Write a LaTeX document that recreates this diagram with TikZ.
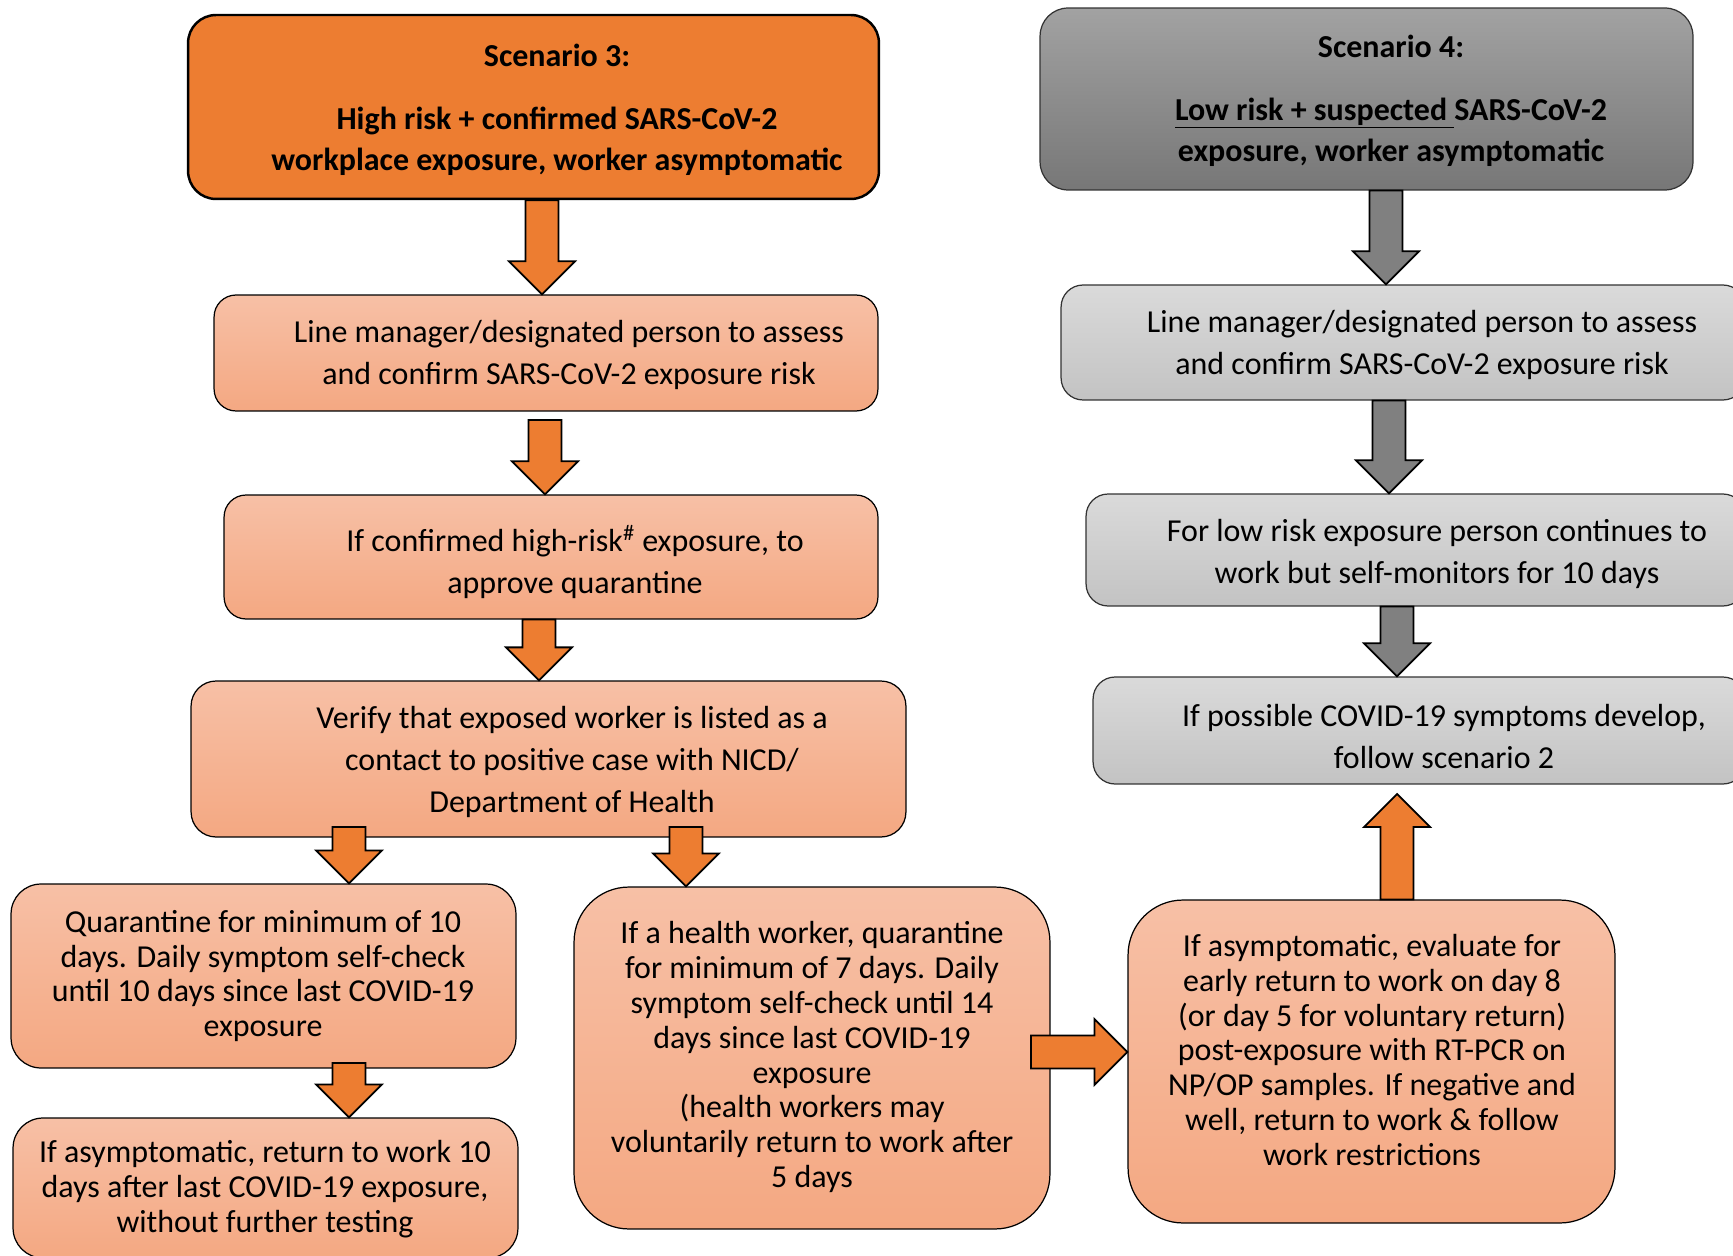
\documentclass[tikz,border=0pt]{standalone}
\usepackage{fontspec}
\setmainfont{Carlito}
\usetikzlibrary{calc}

\definecolor{hdrorange}{HTML}{ED7D31}
\definecolor{lightorangetop}{HTML}{F7C0A6}
\definecolor{lightorangebot}{HTML}{F4A882}
\definecolor{hdrgreytop}{HTML}{A2A2A2}
\definecolor{hdrgreybot}{HTML}{777777}
\definecolor{lightgreytop}{HTML}{DADADA}
\definecolor{lightgreybot}{HTML}{C3C3C3}
\definecolor{arrowgrey}{HTML}{808080}

\tikzset{
  box/.style={draw=black, line width=0.7pt, inner sep=0pt},
  orangebox/.style={box, top color=lightorangetop, bottom color=lightorangebot},
  greybox/.style={box, draw=black!80, top color=lightgreytop, bottom color=lightgreybot},
  txt/.style={align=center, inner sep=0pt, font=\fontsize{18.2}{23.9}\selectfont},
  txtsmall/.style={align=center, inner sep=0pt, font=\fontsize{18.2}{19.9}\selectfont},
  hdrtxt/.style={align=center, inner sep=0pt, font=\fontsize{18.2}{23.3}\selectfont\bfseries},
  fatarrow/.style={draw=black, line width=1pt, line join=miter}
}

% block arrow from #2 to #3 (shaft 9.4pt, head 18.8pt each side)
\newcommand{\blockarrow}[3][hdrorange]{%
  \draw[fatarrow, fill=#1] let \p1=(#2), \p2=(#3),
      \n1={veclen(\x2-\x1,\y2-\y1)}, \n2={(\x2-\x1)/\n1}, \n3={(\y2-\y1)/\n1} in
    ({\x1-9.4*\n3},{\y1+9.4*\n2})
    -- ({\x2-18.8*\n2-9.4*\n3},{\y2-18.8*\n3+9.4*\n2})
    -- ({\x2-18.8*\n2-18.8*\n3},{\y2-18.8*\n3+18.8*\n2})
    -- (\p2)
    -- ({\x2-18.8*\n2+18.8*\n3},{\y2-18.8*\n3-18.8*\n2})
    -- ({\x2-18.8*\n2+9.4*\n3},{\y2-18.8*\n3-9.4*\n2})
    -- ({\x1+9.4*\n3},{\y1-9.4*\n2}) -- cycle;}

\begin{document}
\begin{tikzpicture}[x=0.02cm, y=-0.02cm]
  \useasboundingbox (0,0) rectangle (1733,1256);

  % Scenario 3
  \node[box, line width=1.4pt, fill=hdrorange, rounded corners=0.56cm,
    minimum width=13.82cm, minimum height=3.68cm] (s3) at (533.5,107) {};
  \node[hdrtxt] (s3t) at (557,110) {Scenario 3:\\[0.44cm]
    High risk + confirmed SARS-CoV-2\\ workplace exposure, worker asymptomatic};

  \node[orangebox, rounded corners=0.44cm, minimum width=13.28cm, minimum height=2.32cm] (l1) at (546,353) {};
  \node[txt] (l1t) at (569,355) {Line manager/designated person to assess\\ and confirm SARS-CoV-2 exposure risk};

  \node[orangebox, rounded corners=0.44cm, minimum width=13.08cm, minimum height=2.48cm] (l2) at (551,557) {};
  \node[txt] (l2t) at (575,562) {If confirmed high-risk\textsuperscript{\#} exposure, to\\ approve quarantine};

  \node[orangebox, rounded corners=0.5cm, minimum width=14.30cm, minimum height=3.12cm] (l3) at (548.5,759) {};
  \node[txt] (l3t) at (572,762) {Verify that exposed worker is listed as a\\ contact to positive case with NICD/\\ Department of Health};

  \node[orangebox, rounded corners=0.6cm, minimum width=10.10cm, minimum height=3.68cm] (l4a) at (263.5,976) {};
  \node[txtsmall] (l4at) at (263,976) {Quarantine for minimum of 10\\ days. Daily symptom self-check\\ until 10 days since last COVID-19\\ exposure};

  \node[orangebox, rounded corners=0.6cm, minimum width=10.10cm, minimum height=2.80cm] (l5a) at (265.5,1188) {};
  \node[txtsmall] (l5at) at (265,1189) {If asymptomatic, return to work 10\\ days after last COVID-19 exposure,\\ without further testing};

  \node[orangebox, rounded corners=1.1cm, minimum width=9.52cm, minimum height=6.84cm] (l4b) at (812,1058) {};
  \node[txtsmall] (l4bt) at (812,1057) {If a health worker, quarantine\\ for minimum of 7 days. Daily\\ symptom self-check until 14\\ days since last COVID-19\\ exposure\\ (health workers may\\ voluntarily return to work after\\ 5 days};

  \node[orangebox, rounded corners=1.1cm, minimum width=9.74cm, minimum height=6.46cm] (l4c) at (1371.5,1061.5) {};
  \node[txtsmall] (l4ct) at (1372,1050) {If asymptomatic, evaluate for\\ early return to work on day 8\\ (or day 5 for voluntary return)\\ post-exposure with RT-PCR on\\ NP/OP samples. If negative and\\ well, return to work \& follow\\ work restrictions};

  % Scenario 4
  \node[box, draw=black!80, top color=hdrgreytop, bottom color=hdrgreybot, rounded corners=0.56cm,
    minimum width=13.06cm, minimum height=3.64cm] (s4) at (1366.5,99) {};
  \node[hdrtxt] (s4t) at (1391,100.5) {Scenario 4:\\[0.44cm]
    \underline{Low risk + suspected\ }SARS-CoV-2\\ exposure, worker asymptomatic};

  \node[greybox, rounded corners=0.44cm, minimum width=13.68cm, minimum height=2.30cm] (r1) at (1403,342.5) {};
  \node[txt] (r1t) at (1422,345) {Line manager/designated person to assess\\ and confirm SARS-CoV-2 exposure risk};

  \node[greybox, rounded corners=0.44cm, minimum width=13.18cm, minimum height=2.24cm] (r2) at (1415.5,550) {};
  \node[txt] (r2t) at (1437,554) {For low risk exposure person continues to\\ work but self-monitors for 10 days};

  \node[greybox, rounded corners=0.44cm, minimum width=13.04cm, minimum height=2.14cm] (r3) at (1419,730.5) {};
  \node[txt] (r3t) at (1444,736.5) {If possible COVID-19 symptoms develop,\\ follow scenario 2};

  % Arrows
  \blockarrow{542,0 |- s3.south}{542,0 |- l1.north}
  \blockarrow{545,420}{545,0 |- l2.north}
  \blockarrow{539,0 |- l2.south}{539,0 |- l3.north}
  \blockarrow{349,827}{349,0 |- l4a.north}
  \blockarrow{686,827}{686,0 |- l4b.north}
  \blockarrow{349,1063}{349,0 |- l5a.north}
  \blockarrow{1031,1052}{l4c.west |- 0,1052}
  \blockarrow{1397,0 |- l4c.north}{1397,794}
  \foreach \px/\from/\to in {1386/s4/r1, 1389/r1/r2, 1397/r2/r3} {
    \blockarrow[arrowgrey]{\px,0 |- \from.south}{\px,0 |- \to.north}
  }
\end{tikzpicture}
\end{document}
